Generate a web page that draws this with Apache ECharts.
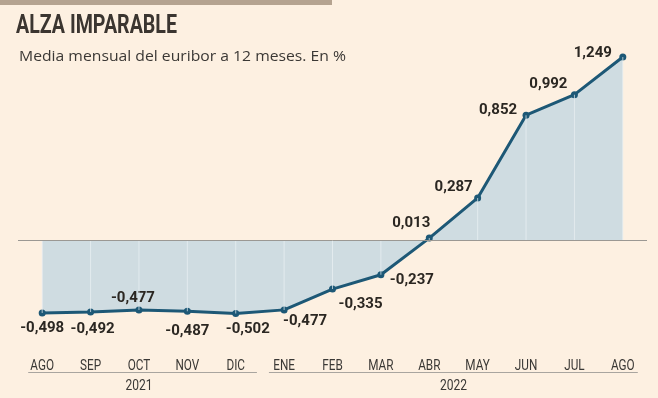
<!DOCTYPE html>
<html><head><meta charset="utf-8">
<script src="https://cdn.jsdelivr.net/npm/echarts@6/dist/echarts.min.js"></script>
<style>html,body{margin:0;padding:0;background:#fdf0e1;}#c{width:658px;height:398px;}</style>
</head><body><div id="c"></div>
<script>
const categories = ['AGO','SEP','OCT','NOV','DIC','ENE','FEB','MAR','ABR','MAY','JUN','JUL','AGO'];
const values = [-0.498,-0.492,-0.477,-0.487,-0.502,-0.477,-0.335,-0.237,0.013,0.287,0.852,0.992,1.249];
const yearLabels = ['2021','2022'];
const yearCounts = [5,8];
const titleText = 'ALZA IMPARABLE';
const subtitleText = 'Media mensual del euribor a 12 meses. En %';

// label offsets (style only)
const labelOffsets = [
  [0,15],[2,17],[-6,-12],[0,20],[12,16],[21,11],[28,15],[31,6],[-18,-15],[-24,-11],[-28,-5],[-26,-10],[-30,-4]
];
const fmt = v => v.toFixed(3).replace('.', ',');

const measureCtx = document.createElement('canvas').getContext('2d');
function fitScale(text, font, target){ measureCtx.font = font; return target / measureCtx.measureText(text).width; }

const chart = echarts.init(document.getElementById('c'), null, {renderer:'canvas'});
const option = {
  backgroundColor:'#fdf0e1',
  animation:false,
  grid:{left:18,right:11,top:49.5,bottom:70.1},
  xAxis:{type:'category',data:categories,boundaryGap:true,
    axisLine:{show:false},axisTick:{show:false},axisLabel:{show:false},splitLine:{show:false}},
  yAxis:{type:'value',min:-0.6,max:1.3,show:false,splitLine:{show:false}},
  series:[
    {type:'bar',data:values,barWidth:1,itemStyle:{color:'rgba(235,241,243,0.7)'},silent:true,z:3},
    {type:'line',data:values.map((v,i)=>({value:v,label:{offset:labelOffsets[i]}})),
     symbol:'circle',symbolSize:7,
     lineStyle:{color:'#1d5876',width:3},
     itemStyle:{color:'#1d5876'},
     areaStyle:{color:'#cfdce1',opacity:1,origin:0},
     label:{show:true,position:'inside',formatter:p=>fmt(p.value),fontFamily:'Roboto',fontWeight:'bold',fontSize:15,color:'#2b2722'},
     z:2,
     markLine:{silent:true,symbol:'none',label:{show:false},lineStyle:{color:'#9b9893',width:1,type:'solid'},
       data:[{yAxis:0}]}
    }
  ]
};
chart.setOption(option);

function drawExtras(){
  const px = i => chart.convertToPixel({xAxisIndex:0},i);
  const step = px(1)-px(0);
  const titleFont = 'bold 26px Roboto';
  const subFont = '15px "Open Sans"';
  const monthFont = '14px Roboto';
  const graphics = [
    {type:'rect',shape:{x:0,y:0,width:332,height:5},style:{fill:'#b5a390'}},
    {type:'text',x:16,y:13,scaleX:fitScale(titleText,titleFont,161),style:{text:titleText,font:titleFont,fill:'#3b3530',textVerticalAlign:'top'}},
    {type:'text',x:19,y:49,scaleX:fitScale(subtitleText,subFont,327),style:{text:subtitleText,font:subFont,fill:'#3b3835',textVerticalAlign:'top'}}
  ];
  categories.forEach((c,i)=>{
    graphics.push({type:'text',x:px(i),y:366,scaleX:0.84,style:{text:c,font:monthFont,fill:'#3a3835',textAlign:'center',textVerticalAlign:'middle'}});
  });
  let start=0;
  yearLabels.forEach((y,k)=>{
    const n=yearCounts[k];
    const first=start,last=start+n-1;
    const x0 = k===0 ? px(first)-14 : px(first)-step/2+9;
    const x1 = k===yearLabels.length-1 ? px(last)+15 : px(last)+step/2-3;
    graphics.push({type:'line',shape:{x1:x0,y1:372.5,x2:x1,y2:372.5},style:{stroke:'#a9a59f',lineWidth:1}});
    const cx = (px(first)+px(last))/2;
    graphics.push({type:'text',x:cx,y:386,scaleX:0.86,style:{text:y,font:monthFont,fill:'#3a3835',textAlign:'center',textVerticalAlign:'middle'}});
    start+=n;
  });
  chart.setOption({graphic:graphics});
}
drawExtras();
</script></body></html>
